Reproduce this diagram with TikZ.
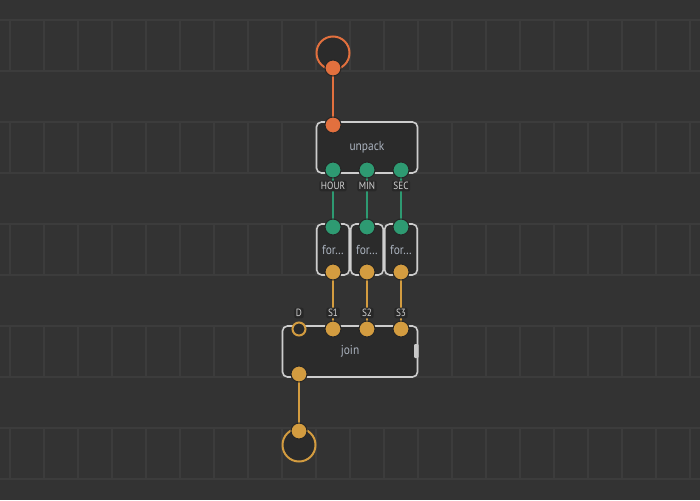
\documentclass[tikz,border=0pt]{standalone}
\usepackage{fontspec}
\setmainfont{PT Sans}
\newfontfamily\narrowfont[FakeStretch=0.88]{PT Sans}
\definecolor{bgc}{HTML}{333333}
\definecolor{gridc}{HTML}{3C3C3C}
\definecolor{nodefill}{HTML}{2B2B2B}
\definecolor{nodeborder}{HTML}{CDCDCD}
\definecolor{orangec}{HTML}{E2703E}
\definecolor{greenc}{HTML}{2E9A72}
\definecolor{goldc}{HTML}{D39C40}
\definecolor{txtc}{HTML}{ABB3BF}
\definecolor{lblbg}{HTML}{282828}
\definecolor{lbltxt}{HTML}{D2D2D2}
\definecolor{pinborder}{HTML}{262626}
\definecolor{handlec}{HTML}{C8C8C8}
\pgfdeclarelayer{back}
\pgfsetlayers{back,main}
\tikzset{
  gridline/.style={draw=gridc, line width=2pt},
  wire/.style={line width=2pt},
  pin/.style={circle, minimum size=16pt, inner sep=0pt, draw=pinborder, line width=1pt},
  hollowpin/.style={circle, minimum size=13pt, inner sep=0pt, draw=goldc, line width=2pt, fill=nodefill},
  nodebox/.style={draw=nodeborder, line width=1.6pt, fill=nodefill, rounded corners=5pt,
    inner sep=0pt, text=txtc, font=\narrowfont\fontsize{13}{15}\selectfont},
  term/.style={circle, minimum size=33pt, inner sep=0pt, line width=2pt, fill=nodefill},
  lbl/.style={fill=lblbg, rounded corners=2pt, inner sep=1.6pt, text=lbltxt,
    font=\narrowfont\fontsize{10.5}{11}\selectfont},
}
\begin{document}
\begin{tikzpicture}[x=1pt,y=-1pt]
\useasboundingbox (0,0) rectangle (700,500);
\begin{pgfonlayer}{back}
  \fill[bgc] (0,0) rectangle (700,500);
  \foreach \k in {0,...,9} { \draw[gridline] (0,20+51*\k) -- (700,20+51*\k); }
  \foreach \j in {0,...,4} {
    \foreach \m in {0,...,20} {
      \draw[gridline] (10+34*\m,20+102*\j) -- (10+34*\m,71+102*\j);
    }
  }
\end{pgfonlayer}

% top terminal
\node[term, draw=orangec] (tin) at (333,53) {};
\node[pin, fill=orangec] (tinp) at (333,68) {};

% unpack node
\node[nodebox, minimum width=101pt, minimum height=51pt] (unpack) at (367,147.5) {unpack};
\node[pin, fill=orangec] (uin) at (333,125) {};
\node[pin, fill=greenc] (uh) at (333,170) {};
\node[pin, fill=greenc] (um) at (367,170) {};
\node[pin, fill=greenc] (us) at (401,170) {};
\node[lbl] (lh) at (333,186) {HOUR};
\node[lbl] (lm) at (367,186) {MIN};
\node[lbl] (ls) at (401,186) {SEC};

% format nodes
\foreach \i/\nm in {0/fa,1/fb,2/fc} {
  \node[nodebox, minimum width=32.5pt, minimum height=51pt] (\nm) at (333+34*\i,249.5) {for…};
  \node[pin, fill=greenc] (\nm in) at (333+34*\i,227) {};
  \node[pin, fill=goldc] (\nm out) at (333+34*\i,272) {};
}

% join node
\node[lbl] (ld) at (299,313) {D};
\node[lbl] (l1) at (333,313) {S1};
\node[lbl] (l2) at (367,313) {S2};
\node[lbl] (l3) at (401,313) {S3};
\node[nodebox, minimum width=135pt, minimum height=51pt] (join) at (350,351.5) {join};
\fill[handlec, rounded corners=1pt] (414,344) rectangle (418.5,358);
\node[hollowpin] (jd) at (299,329) {};
\node[pin, fill=goldc] (j1) at (333,329) {};
\node[pin, fill=goldc] (j2) at (367,329) {};
\node[pin, fill=goldc] (j3) at (401,329) {};
\node[pin, fill=goldc] (jout) at (299,374) {};

% bottom terminal
\node[term, draw=goldc] (tout) at (299,445) {};
\node[pin, fill=goldc] (toutp) at (299,431) {};

\begin{pgfonlayer}{back}
  \draw[wire, orangec] (tinp.center) -- (uin.center);
  \draw[wire, greenc] (uh.center) -- (fain.center);
  \draw[wire, greenc] (um.center) -- (fbin.center);
  \draw[wire, greenc] (us.center) -- (fcin.center);
  \draw[wire, goldc] (faout.center) -- (j1.center);
  \draw[wire, goldc] (fbout.center) -- (j2.center);
  \draw[wire, goldc] (fcout.center) -- (j3.center);
  \draw[wire, goldc] (jout.center) -- (toutp.center);
\end{pgfonlayer}
\end{tikzpicture}
\end{document}
